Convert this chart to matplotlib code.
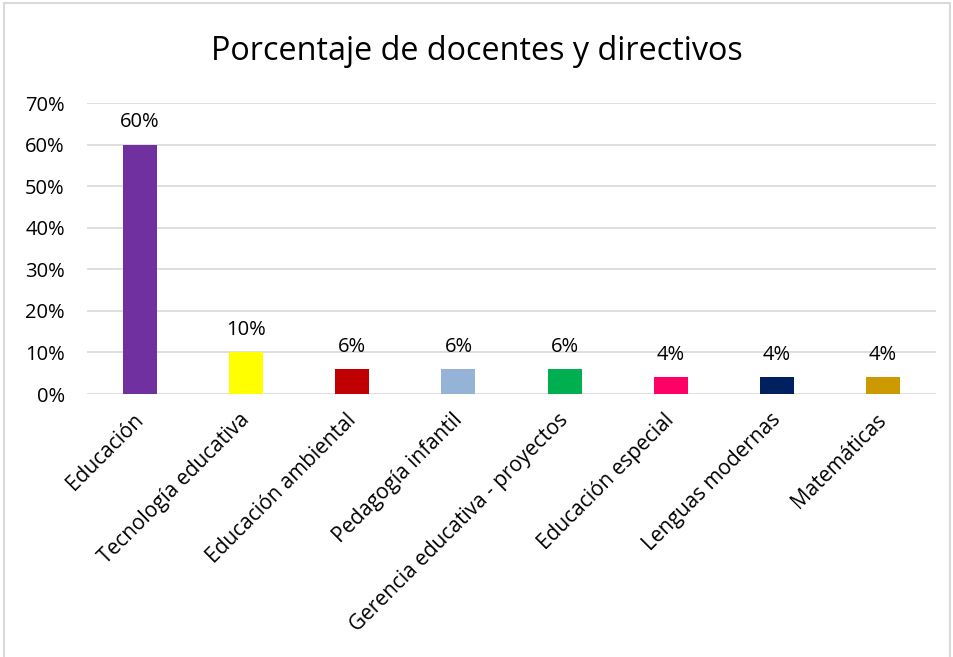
import matplotlib.pyplot as plt
from matplotlib.ticker import PercentFormatter
from matplotlib.transforms import ScaledTranslation
import matplotlib.patches as mpatches

plt.rcParams['font.family'] = ['Open Sans', 'DejaVu Sans']

# Datos del gráfico
categorias = ['Educación', 'Tecnología educativa', 'Educación ambiental',
              'Pedagogía infantil', 'Gerencia educativa - proyectos',
              'Educación especial', 'Lenguas modernas', 'Matemáticas']
porcentajes = [60, 10, 6, 6, 6, 4, 4, 4]
colores = ['#7030A0', '#FFFF00', '#C00000', '#95B3D7', '#00B050',
           '#FF0066', '#002060', '#CC9900']

fig = plt.figure(figsize=(9.54, 6.57), dpi=100)
ax = fig.add_axes([0.0912, 0.4003, 0.8900, 0.4429])

x = range(len(categorias))
barras = ax.bar(x, porcentajes, width=0.32, color=colores, zorder=3)

for xi, v in zip(x, porcentajes):
    ax.annotate(f'{v}%', (xi, v), xytext=(0, 9), textcoords='offset points',
                ha='center', va='bottom', fontsize=14.5, color='#000000')

ax.set_xlim(-0.5, len(categorias) - 0.5)
ax.set_ylim(0, 70)
ax.set_yticks(range(0, 71, 10))
ax.yaxis.set_major_formatter(PercentFormatter(decimals=0))
ax.grid(axis='y', color='#D9D9D9', linewidth=1.2, zorder=0)
for s in ax.spines.values():
    s.set_visible(False)
ax.tick_params(axis='y', length=0, labelsize=14.5, colors='#000000', pad=16)
ax.tick_params(axis='x', length=0, labelsize=15, colors='#000000', pad=11)

ax.set_xticks(list(x))
ax.set_xticklabels(categorias, rotation=45, ha='right', va='top',
                   rotation_mode='anchor')
# desplaza un poco las etiquetas giradas hacia la izquierda
desplazamiento = ScaledTranslation(-5 / 72, 0, fig.dpi_scale_trans)
for lbl in ax.get_xticklabels():
    lbl.set_transform(lbl.get_transform() + desplazamiento)

fig.text(0.5, 0.922, 'Porcentaje de docentes y directivos', ha='center',
         va='center', fontsize=23.3, color='#000000')

# Marco del gráfico
fig.patches.append(mpatches.Rectangle((0.004, -0.01), 0.992, 1.005,
                                      transform=fig.transFigure, fill=False,
                                      edgecolor='#D9D9D9', linewidth=1.5))

fig.savefig('out.png', dpi=100)
